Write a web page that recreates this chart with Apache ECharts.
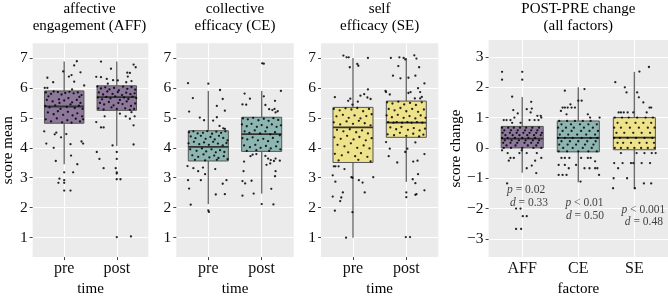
<!DOCTYPE html>
<html><head><meta charset="utf-8">
<script src="https://cdn.jsdelivr.net/npm/echarts@6/dist/echarts.min.js"></script>
<style>html,body{margin:0;padding:0;background:#fff}#c{width:668px;height:302px}</style>
</head><body><div id="c"></div>
<script>
// ---------- data ----------
const panelTitles = ['affective\nengagement (AFF)', 'collective\nefficacy (CE)', 'self\nefficacy (SE)', 'POST-PRE change\n(all factors)'];
const timeCats = ['pre', 'post'];
const factorCats = ['AFF', 'CE', 'SE'];
const scoreTicks = [1, 2, 3, 4, 5, 6, 7];
const changeTicks = [-3, -2, -1, 0, 1, 2, 3];
const yNames = ['score mean', '', '', 'score change'];
const xNames = ['time', 'time', 'time', 'factore'];

// box stats: [lower whisker, Q1, median, Q3, upper whisker]
const affBox = [[3.45, 4.82, 5.38, 5.90, 6.88], [4.06, 5.25, 5.69, 6.07, 6.88]];
const ceBox = [[2.12, 3.56, 4.03, 4.57, 5.90], [2.47, 3.88, 4.46, 5.02, 5.90]];
const seBox = [[1.00, 3.51, 4.68, 5.35, 7.00], [2.86, 4.35, 4.84, 5.56, 7.00]];
const changeBox = [[-0.82, 0.00, 0.31, 0.71, 1.68], [-1.13, -0.13, 0.33, 0.89, 2.00], [-1.35, -0.06, 0.34, 1.00, 2.51]];

// jittered points: [horizontal jitter, value]
const affPre = [[0.24,6.89],[0.19,6.75],[-0.02,6.55],[0.31,6.52],[0.14,6.43],[0.09,6.38],[-0.32,6.34],[0.19,6.21],[-0.21,6.19],[0.38,6.08],[-0.37,6.0],[-0.32,6.0],[0.15,5.95],[-0.38,4.55],[-0.15,4.51],[-0.18,4.45],[0.04,4.46],[-0.06,4.35],[-0.34,4.14],[0.33,4.21],[0.36,4.14],[0.12,4.12],[-0.2,4.0],[-0.16,3.56],[0.13,3.74],[0.25,3.45],[0.0,3.18],[0.17,3.18],[-0.09,2.97],[0.0,2.92],[-0.11,2.83],[0.0,2.83],[0.0,2.57],[0.12,2.57],
 [-0.35,5.85],[-0.3,5.72],[-0.25,5.8],[-0.2,5.88],[-0.12,5.86],[-0.05,5.78],[0.02,5.83],[0.1,5.87],[0.18,5.82],[0.26,5.85],[0.33,5.76],[-0.33,5.6],[-0.22,5.55],[-0.1,5.62],[0.0,5.58],[0.08,5.66],[0.15,5.52],[0.24,5.6],[0.31,5.5],[-0.36,5.4],[-0.28,5.35],[-0.17,5.42],[-0.07,5.3],[0.05,5.37],[0.12,5.45],[0.2,5.33],[0.28,5.41],[0.35,5.3],[-0.31,5.18],[-0.2,5.12],[-0.12,5.22],[-0.02,5.1],[0.07,5.2],[0.16,5.08],[0.25,5.15],[0.34,5.05],[-0.35,4.95],[-0.25,4.88],[-0.14,4.98],[-0.04,4.85],[0.06,4.92],[0.14,4.84],[0.22,4.97],[0.3,4.88],[0.36,4.95],[-0.09,5.5],[0.29,5.7]];
const affPost = [[-0.3,6.88],[0.32,6.78],[0.36,6.69],[-0.11,6.64],[0.2,6.51],[0.25,6.5],[-0.39,6.37],[-0.3,6.36],[-0.19,6.3],[-0.07,6.26],[0.21,6.38],[0.28,6.23],[0.18,6.19],[-0.17,6.14],[0.02,6.25],[0.28,5.19],[0.34,5.05],[0.17,5.05],[0.25,4.97],[-0.23,5.05],[0.06,5.14],[0.32,4.75],[-0.39,4.86],[-0.25,4.68],[-0.3,4.68],[0.32,4.11],[-0.08,4.08],[-0.38,3.86],[-0.33,3.63],[0.0,3.86],[0.0,3.63],[-0.25,3.32],[-0.02,3.32],[0.0,3.18],[0.0,3.14],[0.0,2.95],[0.07,2.95],[0.0,1.02],[0.27,1.04],
 [-0.37,6.05],[-0.3,5.98],[-0.22,6.02],[-0.14,5.95],[-0.05,6.0],[0.04,5.92],[0.12,6.04],[0.2,5.97],[0.28,6.03],[0.35,5.94],[-0.34,5.85],[-0.26,5.78],[-0.18,5.88],[-0.08,5.8],[0.02,5.86],[0.1,5.76],[0.18,5.84],[0.26,5.79],[0.34,5.82],[-0.36,5.68],[-0.28,5.62],[-0.2,5.7],[-0.12,5.65],[-0.03,5.72],[0.06,5.6],[0.14,5.68],[0.22,5.63],[0.3,5.71],[0.37,5.66],[-0.32,5.5],[-0.24,5.45],[-0.15,5.53],[-0.06,5.42],[0.03,5.5],[0.11,5.46],[0.19,5.55],[0.27,5.4],[0.35,5.48],[-0.35,5.32],[-0.25,5.28],[-0.1,5.35],[0.0,5.3],[0.16,5.32],[0.25,5.27],[0.33,5.3]];
const cePre = [[-0.38,6.16],[0.0,6.14],[0.22,5.93],[-0.29,5.66],[0.27,5.63],[0.16,5.4],[-0.36,5.21],[0.31,5.24],[-0.16,5.01],[0.16,5.02],[0.09,4.91],[-0.08,4.92],[0.21,4.73],[0.28,4.65],[0.31,4.63],[-0.39,3.39],[-0.28,3.32],[-0.19,3.22],[-0.1,3.34],[-0.06,3.12],[0.13,3.29],[-0.38,2.92],[-0.14,2.92],[0.34,2.92],[0.27,2.8],[-0.36,2.64],[0.14,2.44],[0.31,2.45],[-0.33,2.1],[0.0,1.91],[0.01,1.86],
 [-0.36,4.52],[-0.28,4.55],[-0.2,4.48],[-0.1,4.5],[-0.02,4.56],[0.07,4.47],[0.15,4.54],[0.24,4.5],[0.32,4.55],[-0.33,4.38],[-0.24,4.32],[-0.14,4.4],[-0.05,4.3],[0.04,4.36],[0.12,4.28],[0.2,4.4],[0.28,4.33],[0.36,4.25],[-0.37,4.15],[-0.27,4.2],[-0.17,4.12],[-0.08,4.18],[0.01,4.1],[0.09,4.2],[0.18,4.14],[0.27,4.08],[0.34,4.16],[-0.34,3.95],[-0.22,3.9],[-0.12,3.98],[-0.04,3.88],[0.06,3.95],[0.14,3.85],[0.22,3.92],[0.3,3.86],[-0.3,3.75],[-0.19,3.7],[-0.09,3.78],[0.02,3.68],[0.11,3.74],[0.19,3.66],[0.29,3.72],[0.36,3.62],[-0.25,3.6],[-0.06,3.58],[0.16,3.6]];
const cePost = [[0.01,6.82],[0.04,6.81],[0.36,5.9],[-0.32,5.81],[-0.22,5.64],[0.04,5.72],[0.25,5.57],[-0.36,5.45],[-0.29,5.44],[0.07,5.43],[0.14,5.29],[0.2,5.26],[0.24,5.3],[0.3,5.22],[0.26,5.18],[-0.1,3.79],[-0.17,3.77],[-0.21,3.72],[0.07,3.73],[0.12,3.64],[0.17,3.59],[0.23,3.56],[0.26,3.64],[-0.33,3.54],[-0.34,3.22],[0.09,3.43],[0.16,3.48],[0.34,3.57],[0.26,3.22],[-0.36,2.89],[-0.31,2.81],[-0.19,2.9],[0.25,3.05],[0.18,2.63],[-0.15,2.47],[-0.36,2.4],[0.0,2.12],[0.22,2.11],
 [-0.35,4.98],[-0.26,4.95],[-0.16,5.0],[-0.06,4.92],[0.04,4.97],[0.13,4.9],[0.22,4.99],[0.31,4.93],[-0.37,4.78],[-0.28,4.72],[-0.19,4.8],[-0.09,4.7],[0.0,4.76],[0.1,4.68],[0.19,4.78],[0.28,4.7],[0.36,4.75],[-0.32,4.55],[-0.23,4.5],[-0.13,4.58],[-0.03,4.48],[0.07,4.55],[0.16,4.45],[0.25,4.52],[0.34,4.42],[-0.36,4.32],[-0.27,4.28],[-0.17,4.35],[-0.07,4.25],[0.03,4.3],[0.12,4.22],[0.21,4.33],[0.3,4.2],[-0.33,4.08],[-0.22,4.02],[-0.12,4.1],[-0.02,4.0],[0.08,4.06],[0.17,3.98],[0.27,4.05],[0.35,3.95],[-0.28,3.9],[-0.1,3.92],[0.14,3.9]];
const sePre = [[-0.18,7.08],[-0.12,7.02],[-0.08,7.02],[0.28,7.0],[-0.06,6.69],[0.08,6.8],[0.1,6.74],[0.28,5.95],[0.21,5.79],[0.27,5.68],[0.33,5.63],[0.14,5.74],[-0.34,5.69],[-0.05,5.64],[-0.09,5.57],[0.09,5.54],[-0.01,5.44],[-0.36,3.38],[-0.33,3.38],[-0.27,3.38],[-0.16,3.29],[-0.03,3.02],[-0.01,3.0],[-0.38,3.08],[0.38,3.02],[0.11,2.92],[0.18,2.84],[-0.33,2.87],[0.22,2.51],[-0.38,2.37],[-0.22,2.34],[-0.19,2.51],[-0.24,2.22],[-0.34,1.9],[-0.01,1.85],[-0.13,1.0],
 [-0.36,5.3],[-0.25,5.25],[-0.14,5.32],[-0.03,5.28],[0.08,5.33],[0.19,5.22],[0.3,5.3],[-0.31,5.05],[-0.19,5.1],[-0.08,5.0],[0.03,5.08],[0.14,4.98],[0.25,5.06],[0.35,5.12],[-0.36,4.85],[-0.24,4.78],[-0.12,4.88],[0.0,4.8],[0.11,4.9],[0.22,4.82],[0.33,4.75],[-0.3,4.6],[-0.18,4.55],[-0.06,4.62],[0.06,4.52],[0.17,4.58],[0.28,4.48],[-0.35,4.35],[-0.23,4.3],[-0.11,4.4],[0.01,4.28],[0.12,4.36],[0.24,4.25],[0.35,4.32],[-0.29,4.1],[-0.16,4.05],[-0.04,4.15],[0.08,4.0],[0.2,4.08],[0.31,3.98],[-0.34,3.8],[-0.21,3.75],[-0.09,3.85],[0.04,3.72],[0.15,3.82],[0.27,3.7],[-0.27,3.58],[0.1,3.6],[0.33,3.55]];
const sePost = [[-0.29,7.0],[-0.13,7.02],[-0.05,7.0],[-0.02,6.95],[0.15,7.09],[0.19,6.98],[0.24,6.69],[-0.15,6.73],[-0.25,6.41],[0.17,6.41],[-0.11,6.32],[0.04,6.34],[0.34,6.15],[-0.39,5.9],[-0.38,5.86],[0.08,5.86],[0.04,5.83],[0.22,5.99],[0.26,5.86],[0.29,5.7],[0.26,5.65],[0.16,5.65],[-0.31,5.78],[-0.38,4.19],[-0.31,3.97],[-0.33,3.72],[-0.17,3.51],[-0.02,3.86],[0.02,3.97],[0.13,3.54],[0.21,3.57],[0.34,3.79],[0.22,3.12],[0.17,4.18],[0.12,2.95],[0.17,2.82],[0.34,2.58],[0.17,2.43],[0.19,2.45],[0.0,2.51],[0.0,2.35],[-0.01,1.02],[0.07,1.02],
 [-0.36,5.52],[-0.26,5.48],[-0.15,5.54],[-0.04,5.45],[0.07,5.5],[0.18,5.43],[0.29,5.52],[-0.33,5.3],[-0.22,5.25],[-0.11,5.33],[0.0,5.22],[0.11,5.3],[0.22,5.2],[0.33,5.28],[-0.37,5.08],[-0.27,5.02],[-0.16,5.1],[-0.05,5.0],[0.06,5.06],[0.17,4.98],[0.27,5.08],[0.36,5.0],[-0.34,4.86],[-0.24,4.84],[-0.18,4.86],[-0.08,4.84],[0.02,4.86],[0.1,4.84],[0.2,4.86],[0.3,4.84],[-0.3,4.68],[-0.19,4.62],[-0.09,4.7],[0.03,4.6],[0.14,4.66],[0.25,4.58],[0.35,4.64],[-0.35,4.45],[-0.23,4.42],[-0.12,4.5],[0.0,4.4],[0.13,4.47],[0.24,4.38],[0.32,4.44]];
const affChange = [[-0.36,2.51],[0.0,2.51],[-0.36,2.25],[0.0,2.25],[-0.18,1.69],[0.16,1.52],[-0.16,1.25],[-0.08,1.14],[0.08,1.28],[0.15,1.17],[0.17,1.3],[0.27,1.06],[0.33,1.06],[-0.33,0.92],[-0.28,0.92],[-0.21,0.92],[-0.18,0.83],[-0.14,1.0],[-0.03,0.83],[0.13,0.92],[0.22,0.92],[0.29,0.92],[0.34,1.0],[-0.36,-0.08],[-0.26,-0.17],[-0.05,-0.17],[-0.01,-0.08],[0.08,-0.17],[0.26,-0.17],[-0.24,-0.42],[-0.21,-0.33],[-0.15,-0.33],[0.23,-0.42],[0.34,-0.33],[0.08,-0.67],[0.17,-0.58],[0.25,-0.83],[-0.27,-1.17],[-0.11,-2.0],[-0.03,-2.0],[0.01,-2.25],[0.08,-2.25],[-0.11,-2.67],[-0.02,-2.67],
 [-0.36,0.67],[-0.25,0.67],[-0.15,0.67],[-0.04,0.67],[0.07,0.67],[0.18,0.67],[0.3,0.67],[-0.32,0.58],[-0.2,0.58],[-0.08,0.58],[0.05,0.58],[0.16,0.58],[0.27,0.58],[-0.35,0.5],[-0.22,0.5],[-0.1,0.5],[0.02,0.5],[0.13,0.5],[0.25,0.5],[0.35,0.5],[-0.3,0.42],[-0.17,0.42],[-0.05,0.42],[0.09,0.42],[0.21,0.42],[0.33,0.42],[-0.36,0.33],[-0.26,0.33],[-0.13,0.33],[0.0,0.33],[0.11,0.33],[0.23,0.33],[-0.31,0.25],[-0.19,0.25],[-0.06,0.25],[0.06,0.25],[0.19,0.25],[0.3,0.25],[-0.34,0.17],[-0.21,0.17],[-0.09,0.17],[0.04,0.17],[0.16,0.17],[0.28,0.17],[-0.28,0.08],[-0.12,0.08],[0.1,0.08],[0.25,0.08],[-0.33,0.0],[-0.2,0.0],[0.0,0.0],[0.2,0.0],[0.34,0.0]];
const ceChange = [[-0.24,1.89],[0.11,1.94],[0.0,1.56],[0.06,1.56],[-0.14,1.44],[-0.28,1.33],[-0.24,1.33],[-0.19,1.33],[-0.12,1.33],[-0.06,1.33],[-0.31,1.22],[-0.21,1.11],[0.17,1.11],[0.21,1.0],[0.38,1.0],[-0.3,-0.33],[-0.24,-0.33],[-0.16,-0.33],[0.05,-0.33],[0.17,-0.33],[0.22,-0.33],[0.3,-0.44],[-0.35,-0.56],[-0.24,-0.56],[-0.17,-0.67],[-0.04,-0.56],[0.11,-0.67],[-0.35,-0.89],[-0.28,-0.89],[-0.21,-0.89],[0.2,-0.67],[0.3,-0.67],[0.34,-0.67],[0.37,-0.89],[0.04,-1.11],
 [-0.34,0.89],[-0.2,0.89],[-0.06,0.89],[0.08,0.89],[0.22,0.89],[-0.3,0.78],[-0.13,0.78],[0.03,0.78],[0.18,0.78],[0.33,0.78],[-0.36,0.67],[-0.22,0.67],[-0.08,0.67],[0.1,0.67],[0.26,0.67],[-0.28,0.56],[-0.12,0.56],[0.05,0.56],[0.2,0.56],[0.35,0.56],[-0.33,0.44],[-0.18,0.44],[-0.02,0.44],[0.14,0.44],[0.3,0.44],[-0.36,0.33],[-0.24,0.33],[-0.1,0.33],[0.06,0.33],[0.22,0.33],[0.34,0.33],[-0.3,0.22],[-0.15,0.22],[0.0,0.22],[0.16,0.22],[0.31,0.22],[-0.34,0.11],[-0.19,0.11],[-0.04,0.11],[0.12,0.11],[0.27,0.11],[-0.27,0.0],[-0.1,0.0],[0.08,0.0],[0.24,0.0],[-0.35,-0.11],[-0.2,-0.11],[0.0,-0.11],[0.18,-0.11],[0.33,-0.11]];
const seChange = [[0.09,2.52],[0.26,2.67],[-0.34,2.17],[-0.17,2.0],[0.05,1.83],[-0.14,1.83],[0.08,1.67],[0.16,1.5],[0.27,1.33],[0.3,1.33],[-0.28,1.17],[-0.24,1.17],[-0.19,1.17],[-0.12,1.17],[-0.02,1.17],[0.22,1.17],[-0.24,-0.17],[0.04,-0.17],[0.18,-0.17],[0.31,-0.17],[0.38,-0.17],[-0.36,-0.5],[-0.29,-0.67],[-0.21,-0.5],[-0.06,-0.5],[-0.02,-0.5],[0.13,-0.5],[0.28,-0.5],[-0.37,-1.0],[-0.13,-1.0],[-0.38,-1.33],[0.17,-1.17],[0.3,-1.17],[0.01,-1.33],
 [-0.35,1.0],[-0.22,1.0],[-0.1,1.0],[0.05,1.0],[0.2,1.0],[0.33,1.0],[-0.3,0.83],[-0.14,0.83],[0.02,0.83],[0.16,0.83],[0.3,0.83],[-0.36,0.67],[-0.24,0.67],[-0.08,0.67],[0.08,0.67],[0.24,0.67],[0.36,0.67],[-0.32,0.5],[-0.18,0.5],[-0.02,0.5],[0.13,0.5],[0.28,0.5],[-0.36,0.33],[-0.26,0.33],[-0.12,0.33],[0.03,0.33],[0.18,0.33],[0.32,0.33],[-0.3,0.17],[-0.2,0.17],[-0.06,0.17],[0.09,0.17],[0.22,0.17],[0.35,0.17],[-0.35,0.0],[-0.24,0.0],[-0.12,0.0],[0.0,0.0],[0.12,0.0],[0.24,0.0],[0.36,0.0]];

// test annotations
const pTexts = ['p = 0.02', 'p < 0.01', 'p < 0.001'];
const dTexts = ['d = 0.33', 'd = 0.50', 'd = 0.48'];
const pAnchor = [[1.07, -1.39], [2.11, -1.82], [3.16, -2.03]];
const dAnchor = [[1.12, -1.80], [2.12, -2.26], [3.17, -2.44]];

// ---------- styles ----------
const FONT = 'Liberation Serif';
const PURPLE = '#8d789c', TEAL = '#8db6b2', YELLOW = '#eee38a';
const panelBoxColors = [[PURPLE, PURPLE], [TEAL, TEAL], [YELLOW, YELLOW], [PURPLE, TEAL, YELLOW]];
const gridsPx = [
  {left: 30.7, top: 43.3, width: 117.6, height: 220},
  {left: 176.3, top: 43.3, width: 117.4, height: 220},
  {left: 321, top: 43.3, width: 117.3, height: 220},
  {left: 488.6, top: 40, width: 179.4, height: 222}
];

const boxesByPanel = [affBox, ceBox, seBox, changeBox];
const pointsByPanel = [[affPre, affPost], [cePre, cePost], [sePre, sePost], [affChange, ceChange, seChange]];
const catsByPanel = [timeCats, timeCats, timeCats, factorCats];

function minusFmt(v) { return v < 0 ? '\u2212' + Math.abs(v) : String(v); }

const grid = [], xAxis = [], yAxis = [], series = [], graphic = [];
for (let i = 0; i < 4; i++) {
  const g = gridsPx[i];
  grid.push(Object.assign({backgroundColor: '#ebebeb', show: true, borderWidth: 0}, g));
  const cats = catsByPanel[i];
  const pos = cats.map((c, k) => k + 1);
  xAxis.push({
    type: 'value', gridIndex: i, min: 0.4, max: cats.length + 0.6,
    axisLine: {show: false},
    axisTick: {show: true, length: 3, lineStyle: {color: '#444', width: 1}, customValues: pos},
    axisLabel: {show: true, customValues: pos, margin: 4, fontFamily: FONT, fontSize: 16, color: '#111',
      formatter: v => cats[Math.round(v) - 1] || ''},
    splitLine: {show: true, lineStyle: {color: '#ffffff', width: 1.1}},
    name: xNames[i], nameLocation: 'middle', nameGap: 19,
    nameTextStyle: {fontFamily: FONT, fontSize: 15, color: '#000'}
  });
  const isChange = i === 3;
  const ticks = isChange ? changeTicks : scoreTicks;
  const ymin = isChange ? -3.6 : 0.35, ymax = isChange ? 3.56 : 7.49;
  yAxis.push({
    type: 'value', gridIndex: i, min: ymin, max: ymax,
    axisLine: {show: false},
    axisTick: {show: true, length: 3, lineStyle: {color: '#444', width: 1}, customValues: ticks},
    axisLabel: {show: true, customValues: ticks, margin: 5, fontFamily: FONT, fontSize: 15.5, color: '#111', formatter: minusFmt},
    splitLine: {show: true, lineStyle: {color: '#ffffff', width: 1.1}},
    name: yNames[i], nameLocation: 'middle', nameGap: isChange ? 23 : 15,
    nameTextStyle: {fontFamily: FONT, fontSize: 15, color: '#000'}
  });
  // title
  graphic.push({
    type: 'text', x: g.left + g.width / 2, y: 1, silent: true,
    style: {text: panelTitles[i], align: 'center', verticalAlign: 'top', fontFamily: FONT, fontSize: 15, lineHeight: 17, fill: '#000'}
  });
}
// minor horizontal grid axes
for (let i = 0; i < 4; i++) {
  const isChange = i === 3;
  const minor = isChange ? [-3.5, -2.5, -1.5, -0.5, 0.5, 1.5, 2.5, 3.5] : [0.5, 1.5, 2.5, 3.5, 4.5, 5.5, 6.5, 7.5];
  yAxis.push({
    type: 'value', gridIndex: i, min: isChange ? -3.6 : 0.35, max: isChange ? 3.56 : 7.49,
    axisLine: {show: false}, axisLabel: {show: false},
    axisTick: {show: false, customValues: minor},
    splitLine: {show: true, lineStyle: {color: '#f7f7f7', width: 0.6}}, z: -1
  });
}

function renderBox(params, api) {
  const x = api.value(0);
  const lo = api.coord([x, api.value(1)]);
  const q1 = api.coord([x, api.value(2)]);
  const md = api.coord([x, api.value(3)]);
  const q3 = api.coord([x, api.value(4)]);
  const hi = api.coord([x, api.value(5)]);
  const w = api.size([0.75, 0])[0];
  const cx = lo[0];
  const color = api.visual('color');
  return {type: 'group', children: [
    {type: 'line', shape: {x1: cx, y1: hi[1], x2: cx, y2: q3[1]}, style: {stroke: '#6e6e6e', lineWidth: 1.4}},
    {type: 'line', shape: {x1: cx, y1: q1[1], x2: cx, y2: lo[1]}, style: {stroke: '#6e6e6e', lineWidth: 1.4}},
    {type: 'rect', shape: {x: cx - w / 2, y: q3[1], width: w, height: q1[1] - q3[1]}, style: {fill: color, stroke: '#555', lineWidth: 1}},
    {type: 'line', shape: {x1: cx - w / 2, y1: md[1], x2: cx + w / 2, y2: md[1]}, style: {stroke: '#333', lineWidth: 1.8}}
  ]};
}

for (let i = 0; i < 4; i++) {
  const boxes = boxesByPanel[i];
  series.push({
    type: 'custom', xAxisIndex: i, yAxisIndex: i, z: 2, silent: true,
    renderItem: renderBox,
    dimensions: ['x', 'lo', 'q1', 'med', 'q3', 'hi'],
    encode: {x: 0, y: [1, 2, 3, 4, 5]},
    data: boxes.map((b, k) => ({value: [k + 1].concat(b), itemStyle: {color: panelBoxColors[i][k]}}))
  });
  const pts = [];
  pointsByPanel[i].forEach((grp, k) => grp.forEach(p => pts.push([k + 1 + p[0], p[1]])));
  series.push({
    type: 'scatter', xAxisIndex: i, yAxisIndex: i, z: 3, silent: true,
    symbol: 'circle', symbolSize: 2.3,
    itemStyle: {color: '#000', opacity: 0.85},
    data: pts
  });
}
// annotations on the change panel
const annData = [];
pTexts.forEach((t, k) => annData.push({value: pAnchor[k], name: t}));
dTexts.forEach((t, k) => annData.push({value: dAnchor[k], name: t}));
series.push({
  type: 'scatter', xAxisIndex: 3, yAxisIndex: 3, z: 4, silent: true,
  symbolSize: 0, data: annData,
  label: {show: true, position: 'inside', fontFamily: FONT, fontSize: 11.5, color: '#111',
    formatter: p => '{i|' + p.name.charAt(0) + '}' + p.name.slice(1),
    rich: {i: {fontFamily: FONT, fontSize: 11.5, fontStyle: 'italic', color: '#111'}}}
});

const chart = echarts.init(document.getElementById('c'), null, {renderer: 'canvas'});
chart.setOption({animation: false, backgroundColor: '#fff', grid, xAxis, yAxis, series, graphic});
</script></body></html>
